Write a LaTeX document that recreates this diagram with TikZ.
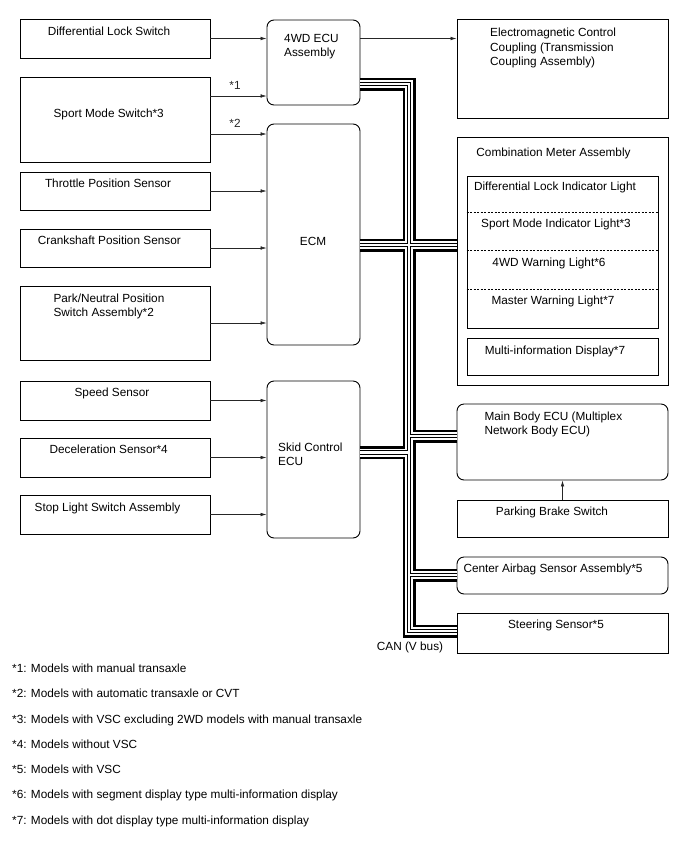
\documentclass[tikz,border=0pt]{standalone}
\usepackage{fontspec}
\setmainfont{Liberation Sans}
\usetikzlibrary{arrows.meta, positioning}

\begin{document}
\begin{tikzpicture}[
  x=1pt, y=-1pt,
  every node/.style={font=\fontsize{11.8}{14.5}\selectfont, inner sep=0pt},
  box/.style={draw, line width=0.9pt},
  ecu/.style={box, rounded corners=7pt},
  txt/.style={anchor=north, align=center},
  ltxt/.style={anchor=north west, align=left},
  sig/.style={-{Latex[length=6pt,width=3.6pt]}, line width=0.6pt, black!85},
  lab/.style={above=6.7pt, xshift=-3.5pt},
  sep/.style={line width=0.7pt, dash pattern=on 2pt off 1.5pt}
]
  \useasboundingbox (0,0) rectangle (688,852);

  \node[box, minimum width=190, minimum height=39] (difflock) at (115,38.5)  {};
  \node[box, minimum width=190, minimum height=85] (sport)    at (115,119.5) {};
  \node[box, minimum width=190, minimum height=38] (throttle) at (115,191)   {};
  \node[box, minimum width=190, minimum height=38] (crank)    at (115,248)   {};
  \node[box, minimum width=190, minimum height=74] (park)     at (115,323)   {};
  \node[box, minimum width=190, minimum height=39] (speed)    at (115,400.5) {};
  \node[box, minimum width=190, minimum height=39] (decel)    at (115,457.5) {};
  \node[box, minimum width=190, minimum height=39] (stoplamp) at (115,514.5) {};

  \node[ecu, minimum width=93, minimum height=85]  (fwdecu) at (313.5,62.5)  {};
  \node[ecu, minimum width=93, minimum height=221] (ecm)    at (313.5,234.5) {};
  \node[ecu, minimum width=93, minimum height=157] (skid)   at (313.5,459.5) {};

  \node[box, minimum width=211, minimum height=99]  (coupling) at (562.5,68.5)  {};
  \node[box, minimum width=211, minimum height=248] (meter)    at (562.5,261)   {};
  \node[box, minimum width=191, minimum height=152] (lights)   at (562.5,252)   {};
  \node[box, minimum width=191, minimum height=37]  (multi)    at (562.5,356.5) {};
  \node[ecu, minimum width=211, minimum height=76]  (body)     at (562.5,442)   {};
  \node[box, minimum width=211, minimum height=37]  (pkb)      at (562.5,518.5) {};
  \node[ecu, minimum width=211, minimum height=37]  (airbag)   at (562.5,575.5) {};
  \node[box, minimum width=211, minimum height=40]  (steer)    at (562.5,633)   {};

  \node[txt]  (difflock-t) at (109,26.8)  {Differential Lock Switch};
  \node[txt]  (sport-t)    at (108.7,108.7) {Sport Mode Switch*3};
  \node[txt]  (throttle-t) at (108,178.7) {Throttle Position Sensor};
  \node[txt]  (crank-t)    at (109.3,235.7) {Crankshaft Position Sensor};
  \node[ltxt] (park-t)     at (53.3,293.7) {Park/Neutral Position\\Switch Assembly*2};
  \node[txt]  (speed-t)    at (112,387.7) {Speed Sensor};
  \node[txt]  (decel-t)    at (108.7,445) {Deceleration Sensor*4};
  \node[txt]  (stoplamp-t) at (107.5,502.4) {Stop Light Switch Assembly};

  \node[ltxt] (fwdecu-t) at (284,33.7)  {4WD ECU\\Assembly};
  \node       (ecm-t)    at (313,241)   {ECM};
  \node[ltxt] (skid-t)   at (278,442.7) {Skid Control\\ECU};

  \node[ltxt] (coupling-t) at (490,28)    {Electromagnetic Control\\Coupling (Transmission\\Coupling Assembly)};
  \node[txt]  (meter-t)    at (553.5,147.4) {Combination Meter Assembly};
  \node[txt]  (lamp1-t)    at (555,181.4) {Differential Lock Indicator Light};
  \node[txt]  (lamp2-t)    at (556,219)   {Sport Mode Indicator Light*3};
  \node[txt]  (lamp3-t)    at (549,257.4) {4WD Warning Light*6};
  \node[txt]  (lamp4-t)    at (553,295.7) {Master Warning Light*7};
  \node[txt]  (multi-t)    at (555,345.7) {Multi-information Display*7};
  \node[ltxt] (body-t)     at (484.3,411.4) {Main Body ECU (Multiplex\\Network Body ECU)};
  \node[txt]  (pkb-t)      at (552,506.7) {Parking Brake Switch};
  \node[ltxt] (airbag-t)   at (463.3,564) {Center Airbag Sensor Assembly*5};
  \node[txt]  (steer-t)    at (556,620)   {Steering Sensor*5};
  \node       (can-t)      at (410,647)   {CAN (V bus)};

  \foreach \d in {37,75,114}
    \draw[sep] ([yshift=-\d pt]lights.north west) -- ([yshift=-\d pt]lights.north east);

  \coordinate (s1) at ([yshift=23.5pt]sport.east);
  \coordinate (s2) at ([yshift=-14.5pt]sport.east);
  \draw[sig] (difflock) -- (difflock -| fwdecu.west);
  \draw[sig] (s1) -- node[lab] (m1) {*1} (s1 -| fwdecu.west);
  \draw[sig] (s2) -- node[lab] (m2) {*2} (s2 -| ecm.west);
  \draw[sig] (throttle) -- (throttle -| ecm.west);
  \draw[sig] (crank) -- (crank -| ecm.west);
  \draw[sig] (park) -- (park -| ecm.west);
  \draw[sig] (speed) -- (speed -| skid.west);
  \draw[sig] (decel) -- (decel -| skid.west);
  \draw[sig] (stoplamp) -- (stoplamp -| skid.west);
  \draw[sig] (difflock -| fwdecu.east) -- (difflock -| coupling.west);
  \draw[sig] (pkb) -- (body);

  \coordinate (jtop)  at (409,84);
  \coordinate (jecm)  at (409,245);
  \coordinate (jbody) at (409,436);
  \coordinate (jskid) at (409,452.5);
  \coordinate (jbag)  at (409,575);
  \coordinate (jbot)  at (409,631);
  \foreach \w/\c in {13/black, 8/white, 4.2/black, 2.4/white}
    \draw[line width=\w pt, \c, line join=miter]
      (fwdecu.east |- jtop) -- (jtop) -- (jbot) -- (steer.west |- jbot)
      (ecm.east |- jecm) -- (meter.west |- jecm)
      (jbody) -- (body.west |- jbody)
      (skid.east |- jskid) -- (jskid)
      (jbag) -- (airbag.west |- jbag);

  \foreach \i/\t in {1/Models with manual transaxle,
                     2/Models with automatic transaxle or CVT,
                     3/Models with VSC excluding 2WD models with manual transaxle,
                     4/Models without VSC,
                     5/Models with VSC,
                     6/Models with segment display type multi-information display,
                     7/Models with dot display type multi-information display}
    \node[ltxt] (note\i) at (12,{663.7+25.3*(\i-1)}) {*\i: \t};
\end{tikzpicture}
\end{document}
